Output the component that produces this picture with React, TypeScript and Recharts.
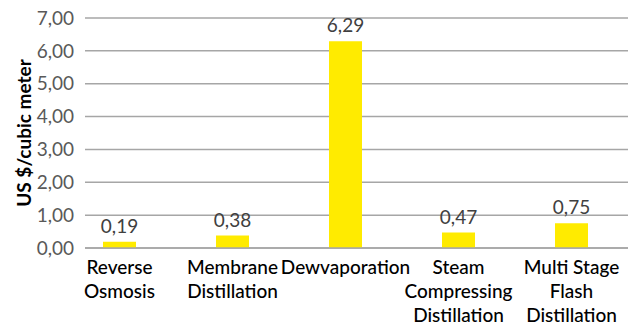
import React from "react";
import { BarChart, Bar, XAxis, YAxis, CartesianGrid, LabelList, Label } from "recharts";

// Desalination cost per technology
const categories = [
  "Reverse Osmosis",
  "Membrane Distillation",
  "Dewvaporation",
  "Steam Compressing Distillation",
  "Multi Stage Flash Distillation",
];
const costs = [0.19, 0.38, 6.29, 0.47, 0.75];
const categoryLines = [
  ["Reverse", "Osmosis"],
  ["Membrane", "Distillation"],
  ["Dewvaporation"],
  ["Steam", "Compressing", "Distillation"],
  ["Multi Stage", "Flash", "Distillation"],
];
const yTicks = [0, 1, 2, 3, 4, 5, 6, 7];
const yAxisTitle = "US $/cubic meter";

const data = categories.map((name, i) => ({ name, cost: costs[i] }));

const fmt = (v: number) => v.toFixed(2).replace(".", ",");

const FONT = "Lato, 'DejaVu Sans', sans-serif";

const CategoryTick = (props: any) => {
  const { x, y, index } = props;
  const lines = categoryLines[index] || [];
  return (
    <g transform={`translate(${x},${y})`}>
      {lines.map((line, i) => (
        <text
          key={i}
          x={0}
          y={18 + i * 24}
          textAnchor="middle"
          fill="#000"
          fontSize={19}
          fontFamily={FONT}
          fontWeight={500}
        >
          {line}
        </text>
      ))}
    </g>
  );
};

export default function App() {
  return (
    <div style={{ position: "absolute", left: 0, top: 0, width: 630, height: 327, background: "#fff" }}>
      <BarChart
        width={630}
        height={327}
        data={data}
        margin={{ top: 18, right: 2, bottom: 0, left: 0 }}
      >
        <CartesianGrid vertical={false} stroke="#A6A6A6" strokeWidth={1.5} />
        <XAxis
          dataKey="name"
          height={79}
          axisLine={{ stroke: "#A6A6A6", strokeWidth: 1.5 }}
          tickLine={false}
          interval={0}
          tick={<CategoryTick />}
          padding={{ left: -22, right: 0 }}
        />
        <YAxis
          width={85}
          domain={[0, 7]}
          ticks={yTicks}
          interval={0}
          axisLine={false}
          tickLine={false}
          tickMargin={5}
          tickFormatter={fmt}
          tick={{ fill: "#595959", fontSize: 19, fontFamily: FONT }}
        >
          <Label
            value={yAxisTitle}
            angle={-90}
            position="center"
            dx={-18}
            fill="#000"
            fontSize={19}
            fontWeight="bold"
            fontFamily={FONT}
          />
        </YAxis>
        <Bar dataKey="cost" fill="#FFEB00" barSize={33} isAnimationActive={false}>
          <LabelList
            dataKey="cost"
            position="top"
            offset={9}
            formatter={(v: any) => fmt(Number(v))}
            fill="#404040"
            fontSize={19}
            fontFamily={FONT}
          />
        </Bar>
      </BarChart>
    </div>
  );
}
